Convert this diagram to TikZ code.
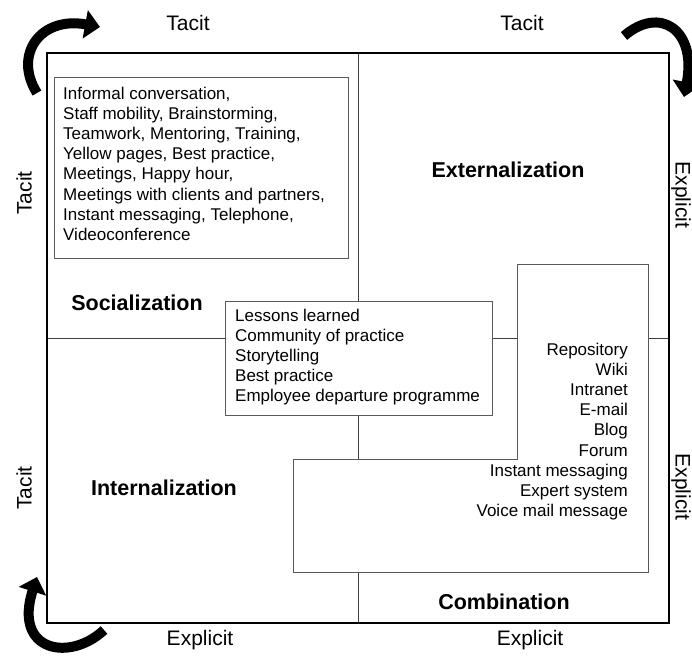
\documentclass[tikz,border=0pt]{standalone}
\usepackage{fontspec}
\setmainfont{Liberation Sans}
\usetikzlibrary{arrows.meta}

\tikzset{
    quadframe/.style={draw, line width=2.6pt, outer sep=0pt, inner sep=0pt},
    midline/.style={draw=black!75, line width=1pt},
    listbox/.style={draw=black!65, line width=1pt, fill=white, inner sep=0pt, outer sep=0pt},
    listtext/.style={font=\fontsize{17}{20.1}\selectfont, inner sep=0pt},
    modename/.style={font=\fontsize{21.5}{24}\selectfont\bfseries},
    axislabel/.style={font=\fontsize{21}{24}\selectfont, inner sep=0pt},
    spiral/.style={line width=10pt, -{Triangle[length=15pt,width=28pt]}},
}

\begin{document}
\begin{tikzpicture}[x=1pt,y=-1pt]
    \useasboundingbox (0,0) rectangle (692,655);

    % the four quadrants
    \coordinate (quadN) at (358,53);
    \coordinate (quadS) at (358,623);
    \coordinate (quadW) at (47,338);
    \coordinate (quadE) at (669,338);
    \draw[midline] (quadN) -- (quadS);
    \draw[midline] (quadW) -- (quadE);

    % boxes of tools
    \node[listbox, anchor=north west, minimum width=294, minimum height=180] (socbox) at (54,78) {};
    \node[listbox, anchor=north west, minimum width=267, minimum height=114] (midbox) at (225,301) {};
    \draw[listbox] (517,264) -- (648,264) -- (648,572) -- (293,572) -- (293,459) -- (517,459) -- cycle;

    \node[quadframe, minimum width=622, minimum height=570] (quad) at (358,338) {};

    \node[listtext, anchor=north west, align=left] (soctext) at (63,87) {Informal conversation,\\ Staff mobility, Brainstorming,\\ Teamwork, Mentoring, Training,\\ Yellow pages, Best practice,\\ Meetings, Happy hour,\\ Meetings with clients and partners,\\ Instant messaging, Telephone,\\ Videoconference};
    \node[listtext, anchor=north west, align=left] (midtext) at (235,309) {Lessons learned\\ Community of practice\\ Storytelling\\ Best practice\\ Employee departure programme};
    \node[listtext, anchor=north east, align=right] (combtext) at (628,343) {Repository\\ Wiki\\ Intranet\\ E-mail\\ Blog\\ Forum\\ Instant messaging\\ Expert system\\ Voice mail message};

    % mode names
    \node[modename] (soc) at (137,303) {Socialization};
    \node[modename] (ext) at (508,170) {Externalization};
    \node[modename] (int) at (164,488) {Internalization};
    \node[modename] (comb) at (504,602) {Combination};

    % axis labels
    \node[axislabel] (topL) at (188,23) {Tacit};
    \node[axislabel] (topR) at (522,23) {Tacit};
    \node[axislabel] (botL) at (200,640) {Explicit};
    \node[axislabel] (botR) at (530,640) {Explicit};
    \node[axislabel, rotate=90] (leftT) at (24,193) {Tacit};
    \node[axislabel, rotate=90] (leftB) at (24,488) {Tacit};
    \node[axislabel, rotate=-90] (rightT) at (681,195) {Explicit};
    \node[axislabel, rotate=-90] (rightB) at (681,487) {Explicit};

    % spiral arrows
    \coordinate (tlTail) at (37,93);
    \coordinate (tlHead) at (100,27);
    \coordinate (trTail) at (624,36);
    \coordinate (trHead) at (684,97);
    \coordinate (blTail) at (104,630);
    \coordinate (blHead) at (37,577);
    \draw[spiral] (tlTail) .. controls (13,55) and (40,16) .. (tlHead);
    \draw[spiral] (trTail) .. controls (660,5) and (697,30) .. (trHead);
    \draw[spiral] (blTail) .. controls (70,662) and (13,652) .. (blHead);
\end{tikzpicture}
\end{document}
